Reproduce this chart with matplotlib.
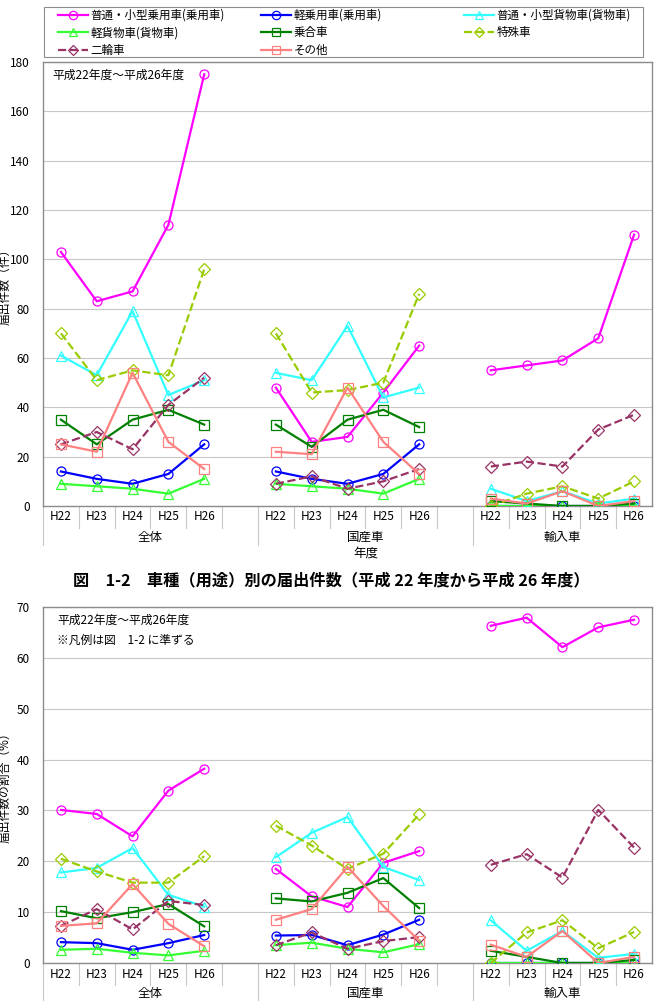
import matplotlib
matplotlib.use("Agg")
import matplotlib.pyplot as plt
import matplotlib.transforms as mtransforms
from matplotlib.lines import Line2D
from matplotlib.patches import Rectangle

plt.rcParams['font.family'] = ['Noto Sans CJK JP', 'DejaVu Sans']

# ---- data ----
years = ['H22', 'H23', 'H24', 'H25', 'H26']
groups = ['全体', '国産車', '輸入車']
series_names = ['普通・小型乗用車(乗用車)', '軽乗用車(乗用車)', '普通・小型貨物車(貨物車)',
                '軽貨物車(貨物車)', '乗合車', '特殊車', '二輪車', 'その他']

# counts (件)
count_total = [
    [103, 83, 87, 114, 175],
    [14, 11, 9, 13, 25],
    [61, 53, 79, 45, 51],
    [9, 8, 7, 5, 11],
    [35, 25, 35, 39, 33],
    [70, 51, 55, 53, 96],
    [25, 30, 23, 41, 52],
    [25, 22, 54, 26, 15],
]
count_domestic = [
    [48, 26, 28, 46, 65],
    [14, 11, 9, 13, 25],
    [54, 51, 73, 44, 48],
    [9, 8, 7, 5, 11],
    [33, 24, 35, 39, 32],
    [70, 46, 47, 50, 86],
    [9, 12, 7, 10, 15],
    [22, 21, 48, 26, 13],
]
count_import = [
    [55, 57, 59, 68, 110],
    [0, 0, 0, 0, 0],
    [7, 2, 6, 1, 3],
    [0, 0, 0, 0, 0],
    [2, 1, 0, 0, 1],
    [0, 5, 8, 3, 10],
    [16, 18, 16, 31, 37],
    [3, 1, 6, 0, 2],
]

# shares (%)
share_total = [
    [30.1, 29.3, 24.9, 33.9, 38.2],
    [4.1, 3.9, 2.6, 3.9, 5.5],
    [17.8, 18.7, 22.6, 13.4, 11.1],
    [2.6, 2.8, 2.0, 1.5, 2.4],
    [10.2, 8.8, 10.0, 11.6, 7.2],
    [20.5, 18.0, 15.8, 15.8, 21.0],
    [7.3, 10.6, 6.6, 12.2, 11.4],
    [7.3, 7.8, 15.5, 7.7, 3.3],
]
share_domestic = [
    [18.5, 13.1, 11.0, 19.7, 22.0],
    [5.4, 5.5, 3.5, 5.6, 8.5],
    [20.8, 25.6, 28.7, 18.9, 16.3],
    [3.5, 4.0, 2.8, 2.1, 3.7],
    [12.7, 12.1, 13.8, 16.7, 10.8],
    [27.0, 23.1, 18.5, 21.5, 29.2],
    [3.5, 6.0, 2.8, 4.3, 5.1],
    [8.5, 10.6, 18.9, 11.2, 4.4],
]
share_import = [
    [66.3, 67.9, 62.1, 66.0, 67.5],
    [0, 0, 0, 0, 0],
    [8.4, 2.4, 6.3, 1.0, 1.8],
    [0, 0, 0, 0, 0],
    [2.4, 1.2, 0, 0, 0.6],
    [0, 6.0, 8.4, 2.9, 6.1],
    [19.3, 21.4, 16.8, 30.1, 22.7],
    [3.6, 1.2, 6.3, 0, 1.2],
]

# ---- styles ----
colors = ['#FF00FF', '#0000FF', '#33FFFF', '#33FF33', '#008000', '#99CC00', '#993366', '#FF8080']
markers = ['o', 'o', '^', '^', 's', 'D', 'D', 's']
styles = ['-', '-', '-', '-', '-', '--', '--', '-']
group_start = [0, 6, 12]

W, H = 654, 1001
fig = plt.figure(figsize=(W / 100, H / 100), dpi=100)
fig.patch.set_facecolor('white')


def px_ax(left, top, right, bottom):
    return fig.add_axes([left / W, 1 - bottom / H, (right - left) / W, (bottom - top) / H])


def fy(y):
    return 1 - y / H


def draw_panel(ax, data_groups, ymax, ystep, ylabel, year_y, group_y, line_bottom):
    for s in range(len(series_names)):
        for g, data in enumerate(data_groups):
            xs = [group_start[g] + i for i in range(len(years))]
            ax.plot(xs, data[s], color=colors[s], ls=styles[s], lw=1.6,
                    marker=markers[s], ms=6.5 if markers[s] != 'D' else 5.8,
                    mfc='none', mec=colors[s], mew=0.9, zorder=3 + s)
    ax.set_xlim(-0.5, 16.5)
    ax.set_ylim(0, ymax)
    ax.set_yticks(range(0, ymax + 1, ystep))
    ax.set_xticks([])
    ax.tick_params(axis='y', length=0, pad=9.5, labelsize=8.5)
    ax.yaxis.grid(True, color='#c8c8c8', lw=0.8)
    ax.set_axisbelow(True)
    for sp in ax.spines.values():
        sp.set_color('#8c8c8c')
        sp.set_linewidth(1.0)
    pos = ax.get_position()
    fig.text(5 / W, (pos.y0 + pos.y1) / 2, ylabel, rotation=90,
             ha='center', va='center', fontsize=8.5)

    tr = mtransforms.blended_transform_factory(ax.transData, fig.transFigure)
    for g in range(3):
        for i, yr in enumerate(years):
            ax.text(group_start[g] + i, fy(year_y), yr, transform=tr,
                    ha='center', va='center', fontsize=8.5)
        for k in range(1, 6):
            xx = group_start[g] - 0.5 + k
            if xx < 16.5:
                ax.plot([xx, xx], [pos.y0, fy(year_y + 11)], transform=tr,
                        color='#c8c8c8', lw=0.8, clip_on=False)
    for xx in [-0.5, 5.5, 11.5]:
        ax.plot([xx, xx], [pos.y0, fy(line_bottom)], transform=tr,
                color='#c8c8c8', lw=0.8, clip_on=False)
    centers = [2.5, 8.5, 14]
    for g, name in enumerate(groups):
        ax.text(centers[g], fy(group_y), name, transform=tr,
                ha='center', va='center', fontsize=9)
    return tr


# ---- top panel: counts ----
ax1 = px_ax(43, 62, 652, 506)
tr1 = draw_panel(ax1, [count_total, count_domestic, count_import], 180, 20,
                 '届出件数（件）', 517, 537, 545)
ax1.text(8.5, fy(553), '年度', transform=tr1, ha='center', va='center', fontsize=9)
ax1.text(52 / W, fy(75), '平成22年度～平成26年度', transform=fig.transFigure,
         ha='left', va='center', fontsize=8.5)

# legend: three columns laid out row by row like the original
handles = [Line2D([], [], color=colors[s], ls=styles[s], lw=1.6, marker=markers[s],
                  ms=6 if markers[s] != 'D' else 5.5, mfc='none', mew=0.9)
           for s in range(len(series_names))]
fig.add_artist(Rectangle((44 / W, fy(57)), (643 - 44) / W, 50 / H,
                         transform=fig.transFigure, fill=False,
                         edgecolor='#8c8c8c', lw=0.8))
col_x = [56, 259, 462]
for c in range(3):
    idx = list(range(c, len(series_names), 3))
    fig.legend([handles[i] for i in idx], [series_names[i] for i in idx],
               loc='upper left', bbox_to_anchor=(col_x[c] / W, fy(7)),
               fontsize=8.3, frameon=False, handlelength=2.6, handletextpad=0.25,
               labelspacing=0.4, borderpad=0.16, borderaxespad=0)

# caption
fig.text(331 / W, fy(580), '図　1-2　車種（用途）別の届出件数（平成 22 年度から平成 26 年度）',
         ha='center', va='center', fontsize=11.7, fontweight='bold')

# ---- bottom panel: shares ----
ax2 = px_ax(43, 607, 652, 963)
draw_panel(ax2, [share_total, share_domestic, share_import], 70, 10,
           '届出件数の割合（%）', 974, 993, 1001)
ax2.text(57 / W, fy(620), '平成22年度～平成26年度', transform=fig.transFigure,
         ha='left', va='center', fontsize=8.5)
ax2.text(57 / W, fy(640), '※凡例は図　1-2 に準ずる', transform=fig.transFigure,
         ha='left', va='center', fontsize=8.5)

fig.savefig('out.png', dpi=100, facecolor='white')
